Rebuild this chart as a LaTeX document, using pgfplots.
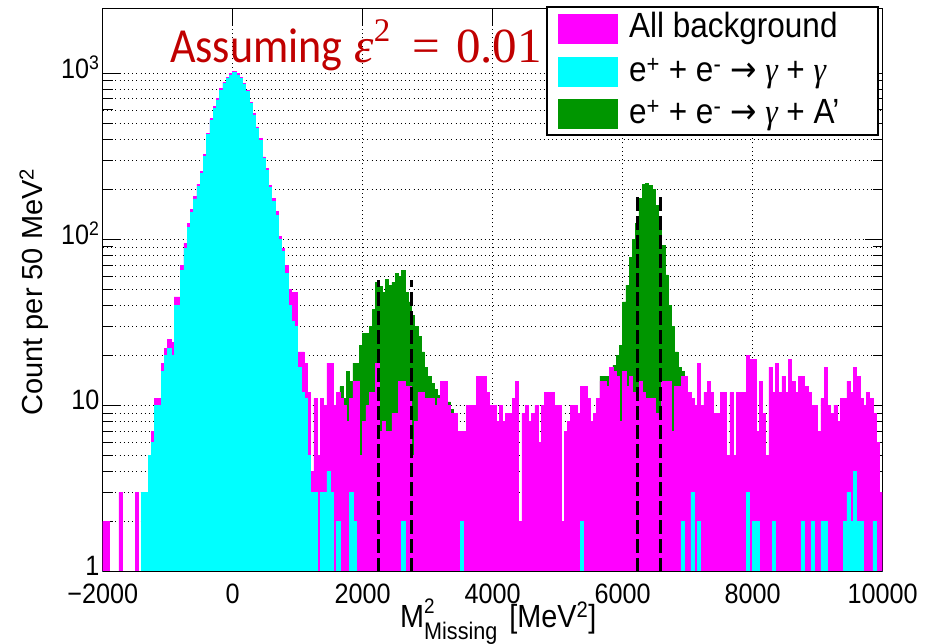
\documentclass[border=0pt]{standalone}
\usepackage{fontspec}
\setmainfont{Liberation Sans}[FakeStretch=0.9]
\newfontfamily\ylabfont{Liberation Sans}
\newfontfamily\calib{Carlito}[FakeStretch=0.9]
\newfontfamily\serifup{Liberation Serif}
\newfontfamily\serifit{Liberation Serif}[FakeStretch=0.9]
\newfontfamily\symfont{DejaVu Sans}[FakeStretch=0.9]
\usepackage{graphicx}
\usepackage{pgfplots}
\usepackage{pgfplotstable}
\pgfplotsset{compat=1.18}
\definecolor{rootmag}{RGB}{255,0,255}
\definecolor{rootcyan}{RGB}{0,255,255}
\definecolor{rootgreen}{RGB}{0,150,0}
\definecolor{darkred}{RGB}{192,0,0}

\pgfplotstableread{
x M C
-2000 2 1
-1950 2 1
-1900 1 1
-1850 1 1
-1800 1 1
-1750 3 1
-1700 1 1
-1650 1 1
-1600 1 1
-1550 1 1
-1500 3 1
-1450 1 1
-1400 3 3
-1350 3 3
-1300 5 5
-1250 7 6
-1200 11 10
-1150 11 10
-1100 18 16
-1050 22 20
-1000 25 22
-950 24 20
-900 45 40
-850 45 40
-800 70 65
-750 95 88
-700 124 118
-650 152 145
-600 182 175
-550 215 207
-500 257 250
-450 324 315
-400 436 425
-350 531 520
-300 630 615
-250 702 690
-200 806 790
-150 884 870
-100 946 930
-50 990 975
0 1024 1010
50 990 975
100 946 930
150 863 850
200 787 775
250 670 660
300 570 560
350 474 465
400 404 395
450 313 305
500 267 260
550 212 205
600 176 170
650 147 140
700 104 100
750 88 84
800 70 62
850 50 40
900 48 32
950 48 30
1000 21 17
1050 21 12
1100 18 11
1150 12 5
1200 4 3
1250 11 3
1300 5 1
1350 11 3
1400 10 3
1450 18 4
1500 18 3
1550 10 1
1600 12 2
1650 11 1
1700 10 1
1750 8 1
1800 11 3
1850 14 2
1900 14 1
1950 5 1
2000 8 1
2050 10 1
2100 12 1
2150 12 1
2200 18 1
2250 7 1
2300 8 1
2350 7 1
2400 7 1
2450 9 1
2500 9 1
2550 14 1
2600 14 2
2650 13 1
2700 13 1
2750 5 1
2800 8 1
2850 12 1
2900 12 1
2950 11 1
3000 11 1
3050 11 1
3100 10 1
3150 11 1
3200 14 1
3250 14 1
3300 10 1
3350 9 1
3400 9 1
3450 7 1
3500 7 2
3550 7 1
3600 10 1
3650 10 1
3700 10 1
3750 15 1
3800 15 1
3850 15 1
3900 12 1
3950 10 1
4000 10 1
4050 8 1
4100 10 1
4150 8 1
4200 9 1
4250 9 1
4300 11 1
4350 14 1
4400 2 1
4450 9 1
4500 10 1
4550 8 1
4600 9 1
4650 10 1
4700 6 1
4750 10 1
4800 12 1
4850 12 1
4900 12 1
4950 10 1
5000 10 1
5050 2 1
5100 7 1
5150 8 1
5200 10 1
5250 10 1
5300 9 1
5350 13 2
5400 13 1
5450 11 1
5500 8 1
5550 9 1
5600 11 1
5650 14 1
5700 14 1
5750 13 1
5800 17 1
5850 16 1
5900 15 1
5950 8 1
6000 16 1
6050 13 1
6100 15 1
6150 12 1
6200 12 1
6250 14 1
6300 12 1
6350 11 1
6400 11 1
6450 11 1
6500 9 1
6550 9 1
6600 14 1
6650 14 1
6700 14 1
6750 7 1
6800 13 1
6850 13 1
6900 15 2
6950 15 1
7000 12 1
7050 11 3
7100 10 1
7150 18 2
7200 10 1
7250 12 1
7300 14 1
7350 12 1
7400 9 1
7450 9 1
7500 12 1
7550 12 1
7600 5 1
7650 12 1
7700 5 1
7750 12 1
7800 12 1
7850 12 1
7900 20 3
7950 19 1
8000 19 2
8050 7 2
8100 14 1
8150 9 1
8200 5 1
8250 17 1
8300 12 2
8350 18 1
8400 12 1
8450 15 1
8500 12 1
8550 19 1
8600 14 1
8650 12 1
8700 15 1
8750 15 2
8800 13 1
8850 12 1
8900 10 2
8950 10 1
9000 7 1
9050 11 2
9100 17 2
9150 10 1
9200 9 1
9250 10 1
9300 8 1
9350 11 1
9400 11 2
9450 14 3
9500 12 2
9550 17 4
9600 15 2
9650 11 2
9700 10 1
9750 12 1
9800 11 1
9850 9 2
9900 6 1
9950 3 1
10000 3 1
}\bgdata

\pgfplotstableread{
x G
1600 12
1650 13
1700 11
1750 16
1800 14
1850 18
1900 18
1950 23
2000 27
2050 27
2100 30
2150 38
2200 55
2250 52
2300 48
2350 57
2400 53
2450 55
2500 62
2550 60
2600 65
2650 48
2700 42
2750 35
2800 30
2850 26
2900 21
2950 17
3000 15
3050 13.5
3100 12.5
3150 11.5
3200 14
3250 14
3300 10.5
3350 9.5
3400 9
3450 9
}\sigA

\pgfplotstableread{
x G
5600 11
5650 15
5700 15
5750 15
5800 17
5850 17.5
5900 20
5950 23
6000 42
6050 53
6100 78
6150 100
6200 125
6250 176
6300 214
6350 216
6400 212
6450 200
6500 160
6550 130
6600 92
6650 61
6700 40
6750 30
6800 21
6850 17
6900 16
6950 15
7000 15
}\sigB

\begin{document}
\begin{tikzpicture}
\path[use as bounding box] (0pt,0pt) rectangle (926pt,643pt);
\begin{axis}[
  at={(102.7pt,71.3pt)}, anchor=south west,
  scale only axis, width=780pt, height=563.4pt,
  xmin=-2000, xmax=10000,
  ymode=log, ymin=1, ymax=2455,
  scaled x ticks=false,
  xtick={-2000,0,2000,4000,6000,8000,10000},
  xticklabels={−2000,0,2000,4000,6000,8000,10000},
  ytick={1,10,100,1000},
  yticklabels={1,10,10\textsuperscript{2},10\textsuperscript{3}},
  xmajorgrids, ymajorgrids, yminorgrids,
  grid style={black, line width=0.8pt, dash pattern=on 0.8pt off 3.4pt},
  minor grid style={black, line width=0.8pt, dash pattern=on 0.8pt off 3.4pt},
  tick align=inside,
  major tick length=18pt, minor tick length=10pt,
  tick style={black, line width=1pt},
  ticklabel style={font=\fontsize{28}{30}\selectfont},
  yticklabel style={inner sep=0pt, xshift=-3pt, yshift=6pt},
  xticklabel style={inner sep=0pt, yshift=-12pt},
  axis line style={line width=1.2pt},
]
\addplot[const plot, draw=rootgreen, fill=rootgreen, line width=0.8pt] table[x=x,y=G]{\sigA} \closedcycle;
\addplot[const plot, draw=rootgreen, fill=rootgreen, line width=0.8pt] table[x=x,y=G]{\sigB} \closedcycle;
\addplot[const plot, draw=rootmag, fill=rootmag, line width=0.8pt] table[x=x,y=M]{\bgdata} \closedcycle;
\addplot[const plot, draw=rootcyan, fill=rootcyan, line width=0.8pt] table[x=x,y=C]{\bgdata} \closedcycle;
\addplot[black, line width=2.8pt, dash pattern=on 14pt off 5pt] coordinates {(2240,1) (2240,57)};
\addplot[black, line width=2.8pt, dash pattern=on 14pt off 5pt] coordinates {(2746,1) (2746,57)};
\addplot[black, line width=2.8pt, dash pattern=on 14pt off 5pt] coordinates {(6223,1) (6223,184)};
\addplot[black, line width=2.8pt, dash pattern=on 14pt off 5pt] coordinates {(6582,1) (6582,184)};
\draw[black, line width=1.2pt] (rel axis cs:0,0) rectangle (rel axis cs:1,1);
\end{axis}
% axis titles
\node[rotate=90, anchor=center, inner sep=0pt] at (34pt,351pt)
  {\ylabfont\fontsize{29}{34}\selectfont Count per 50 MeV\textsuperscript{2}};
\node[anchor=base west, inner sep=0pt] at (400pt,16pt)
  {\fontsize{32}{36}\selectfont M\rlap{\raisebox{14pt}{\fontsize{21}{21}\selectfont 2}}\raisebox{-12pt}{\fontsize{24}{24}\selectfont Missing}\hspace{12pt}[MeV\textsuperscript{2}]};
% annotation
\node[anchor=base west, inner sep=0pt, text=darkred] at (170pt,580pt)
  {\fontsize{49}{56}\selectfont\calib Assuming\hspace{12pt}{\serifup\itshape ε}\raisebox{21pt}{\serifup\fontsize{33}{33}\selectfont 2}\hspace{22pt}{\serifup =}\hspace{16pt}{\serifup 0.01}};
% legend
\draw[black, line width=1.5pt, fill=white] (547pt,508pt) rectangle (878pt,636pt);
\fill[rootmag] (558pt,599pt) rectangle (618pt,629pt);
\fill[rootcyan] (558pt,556pt) rectangle (618pt,586pt);
\fill[rootgreen] (558pt,514pt) rectangle (618pt,544pt);
\node[anchor=base west, inner sep=0pt] at (629pt,605pt) {\fontsize{35}{40}\selectfont All background};
\node[anchor=base west, inner sep=0pt] at (629pt,561pt) {\fontsize{35}{40}\selectfont e\textsuperscript{+} + e\textsuperscript{-} {\symfont →} {\serifit\itshape γ} + {\serifit\itshape γ}};
\node[anchor=base west, inner sep=0pt] at (629pt,519pt) {\fontsize{35}{40}\selectfont e\textsuperscript{+} + e\textsuperscript{-} {\symfont →} {\serifit\itshape γ} + A'};
\end{tikzpicture}
\end{document}
